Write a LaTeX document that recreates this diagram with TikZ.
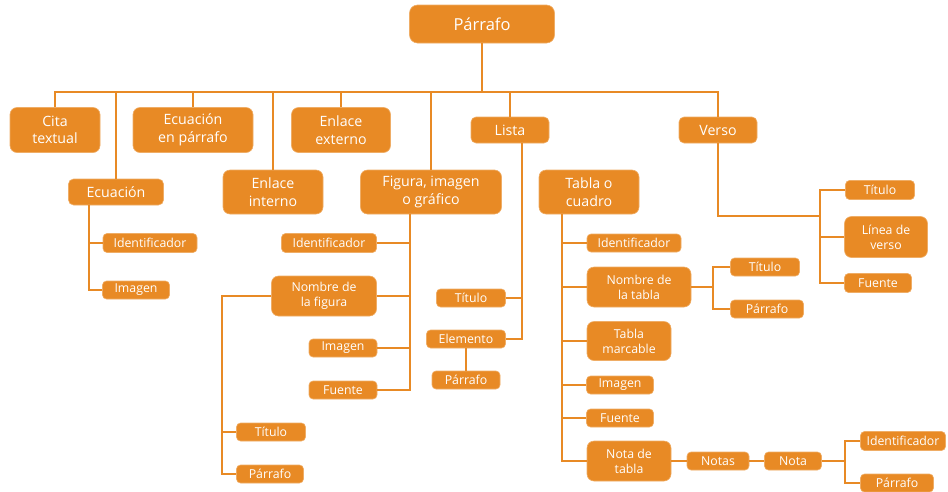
\documentclass[tikz,border=0pt]{standalone}
\usepackage{fontspec}
\setmainfont{Open Sans}
\usepackage{tikz}
\usetikzlibrary{positioning, calc}
\definecolor{naranja}{HTML}{E88A25}

\begin{document}
\begin{tikzpicture}[x=1pt, y=-1pt,
        caja/.style={rectangle, rounded corners=4pt, fill=naranja, draw=naranja!70!white, line width=0.6pt, text=white, align=center, inner sep=1pt},
        grande/.style={caja, rounded corners=8pt, font=\fontsize{16.5}{19}\selectfont},
        media/.style={caja, rounded corners=7pt, font=\fontsize{14.2}{17.5}\selectfont},
        chica/.style={caja, font=\fontsize{12.3}{15}\selectfont},
        enlace/.style={draw=naranja, line width=1.8pt}
    ]
        \useasboundingbox (0,0) rectangle (948,491);

        \node[grande, minimum width=145pt, minimum height=38pt] (parrafo) at (482,24) {Párrafo};

        \node[media, minimum width=90pt, minimum height=45pt] (cita) at (55,130) {Cita\\textual};
        \node[media, minimum width=120pt, minimum height=45pt] (ecpar) at (193,130) {Ecuación\\en párrafo};
        \node[media, minimum width=99pt, minimum height=45pt] (enlext) at (341,130) {Enlace\\externo};
        \node[media, rounded corners=5pt, minimum width=78pt, minimum height=26pt] (lista) at (510,130) {Lista};
        \node[media, rounded corners=5pt, minimum width=78pt, minimum height=26pt] (verso) at (718,130) {Verso};
        \node[media, rounded corners=5pt, minimum width=95pt, minimum height=26pt] (ecuacion) at (116,192) {Ecuación};
        \node[media, minimum width=100pt, minimum height=44pt] (enlint) at (273,192) {Enlace\\interno};
        \node[media, minimum width=141pt, minimum height=44pt] (figura) at (431,192) {Figura, imagen\\o gráfico};
        \node[media, minimum width=100pt, minimum height=44pt] (tabla) at (589,192) {Tabla o\\cuadro};

        \node[chica, minimum width=94pt, minimum height=19pt] (ecid) at (150,243) {Identificador};
        \node[chica, minimum width=67pt, minimum height=18pt] (ecimg) at (136,290) {Imagen};

        \node[chica, minimum width=95pt, minimum height=19pt] (figid) at (329,243) {Identificador};
        \node[chica, rounded corners=7pt, minimum width=105pt, minimum height=40pt] (fignom) at (324,296) {Nombre de\\la figura};
        \node[chica, minimum width=68pt, minimum height=18pt] (figimg) at (343,348) {Imagen};
        \node[chica, minimum width=68pt, minimum height=18pt] (figfte) at (343,390) {Fuente};
        \node[chica, minimum width=69pt, minimum height=18pt] (figtit) at (271,432) {Título};
        \node[chica, minimum width=67pt, minimum height=18pt] (figpar) at (270,474) {Párrafo};

        \node[chica, minimum width=69pt, minimum height=18pt] (listit) at (471,298) {Título};
        \node[chica, minimum width=79pt, minimum height=18pt] (listel) at (466,339) {Elemento};
        \node[chica, minimum width=68pt, minimum height=18pt] (lispar) at (466,380) {Párrafo};

        \node[chica, minimum width=94pt, minimum height=18pt] (tabid) at (634,243) {Identificador};
        \node[chica, rounded corners=7pt, minimum width=104pt, minimum height=40pt] (tabnom) at (639,287) {Nombre de\\la tabla};
        \node[chica, rounded corners=7pt, minimum width=84pt, minimum height=39pt] (tabmar) at (629,341) {Tabla\\marcable};
        \node[chica, minimum width=67pt, minimum height=18pt] (tabimg) at (620,385) {Imagen};
        \node[chica, minimum width=67pt, minimum height=18pt] (tabfte) at (620,418) {Fuente};
        \node[chica, rounded corners=7pt, minimum width=84pt, minimum height=40pt] (tabnota) at (629,461) {Nota de\\tabla};
        \node[chica, minimum width=69pt, minimum height=18pt] (tabtit) at (765,267) {Título};
        \node[chica, minimum width=73pt, minimum height=18pt] (tabpar) at (767,309) {Párrafo};
        \node[chica, minimum width=62pt, minimum height=18pt] (notas) at (718,461) {Notas};
        \node[chica, minimum width=57pt, minimum height=18pt] (nota) at (793,461) {Nota};
        \node[chica, minimum width=85pt, minimum height=19pt] (notid) at (903,441) {Identificador};
        \node[chica, minimum width=73pt, minimum height=18pt] (notpar) at (897,483) {Párrafo};

        \node[chica, minimum width=69pt, minimum height=19pt] (vertit) at (880,190) {Título};
        \node[chica, rounded corners=7pt, minimum width=83pt, minimum height=41pt] (verlin) at (886,237) {Línea de\\verso};
        \node[chica, minimum width=67pt, minimum height=19pt] (verfte) at (878,283) {Fuente};

        \coordinate (bus) at (482,92);
        \coordinate (ecx) at (89,0);
        \coordinate (figx) at (410,0);
        \coordinate (nomx) at (222,0);
        \coordinate (lisx) at (522,0);
        \coordinate (tabx) at (562,0);
        \coordinate (tnx) at (713,0);
        \coordinate (ntx) at (845,0);
        \coordinate (vj) at (820,216);

        \draw[enlace] (parrafo.south) -- (bus);
        \draw[enlace] (cita.north) |- (bus) -| (verso.north);
        \foreach \hijo in {ecuacion, ecpar, enlint, enlext, figura, lista}
            \draw[enlace] (\hijo.north) -- (\hijo.north |- bus);

        \draw[enlace] (ecuacion.south -| ecx) |- (ecimg.west);
        \draw[enlace] (ecid.west) -- (ecid.west -| ecx);

        \draw[enlace] (figura.south -| figx) |- (figfte.east);
        \foreach \hijo in {figid, fignom, figimg}
            \draw[enlace] (\hijo.east) -- (\hijo.east -| figx);
        \draw[enlace] (fignom.west) -- (fignom.west -| nomx) |- (figpar.west);
        \draw[enlace] (figtit.west) -- (figtit.west -| nomx);

        \draw[enlace] (lista.south -| lisx) |- (listel.east);
        \draw[enlace] (listit.east) -- (listit.east -| lisx);
        \draw[enlace] (listel) -- (lispar);

        \draw[enlace] (tabla.south -| tabx) |- (tabnota.west);
        \foreach \hijo in {tabid, tabnom, tabmar, tabimg, tabfte}
            \draw[enlace] (\hijo.west) -- (\hijo.west -| tabx);
        \draw[enlace] (tabnom.east) -- (tabnom.east -| tnx);
        \draw[enlace] (tabtit.west) -- (tabtit.west -| tnx) -- (tabpar.west -| tnx) -- (tabpar.west);
        \draw[enlace] (tabnota) -- (notas) -- (nota);
        \draw[enlace] (nota.east) -- (nota.east -| ntx);
        \draw[enlace] (notid.west) -- (notid.west -| ntx) -- (notpar.west -| ntx) -- (notpar.west);

        \draw[enlace] (verso.south) |- (vj);
        \draw[enlace] (vertit.west) -| (vj);
        \draw[enlace] (verfte.west) -| (vj);
        \draw[enlace] (verlin.west) -- (verlin.west -| vj);
    \end{tikzpicture}
\end{document}
